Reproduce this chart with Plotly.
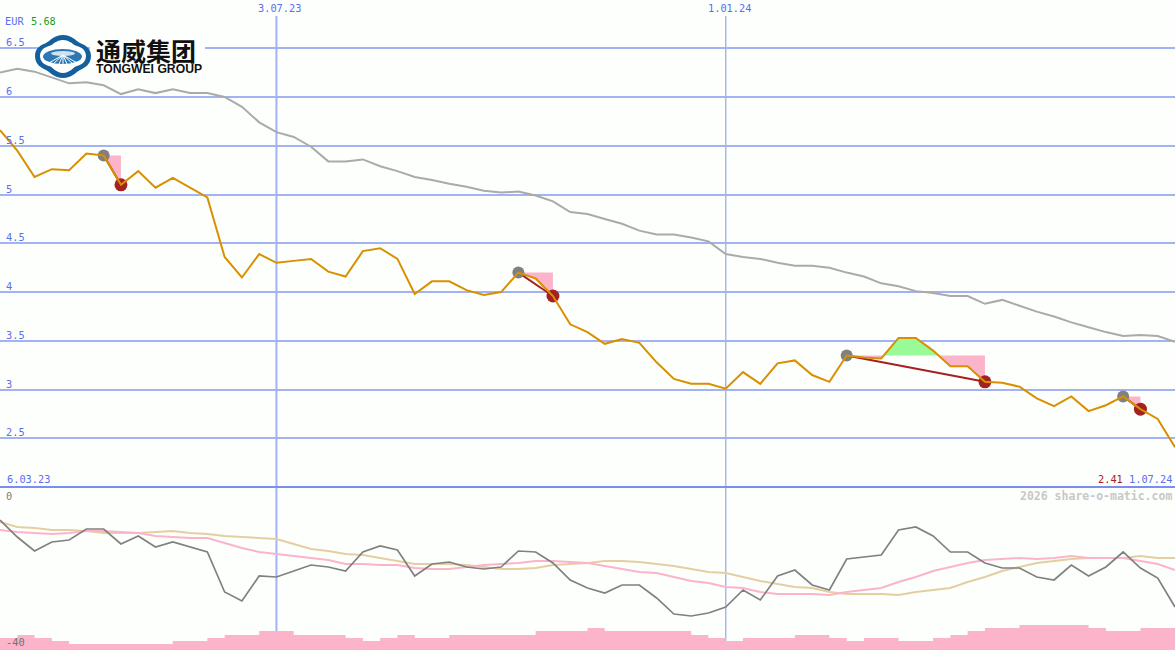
import plotly.graph_objects as go

weeks = list(range(69))
price = [5.66,5.45,5.18,5.26,5.25,5.42,5.40,5.10,5.24,5.07,5.17,5.07,4.97,4.36,4.15,4.39,4.30,4.32,4.34,4.21,
         4.16,4.42,4.45,4.34,3.98,4.11,4.11,4.02,3.97,4.00,4.20,4.14,3.96,3.67,3.59,3.47,3.52,3.48,3.28,3.11,
         3.06,3.06,3.01,3.18,3.06,3.27,3.30,3.15,3.08,3.35,3.33,3.32,3.53,3.53,3.40,3.24,3.24,3.08,3.07,3.03,
         2.91,2.83,2.93,2.78,2.84,2.93,2.80,2.70,2.41]
average = [6.25,6.29,6.26,6.20,6.14,6.15,6.12,6.03,6.08,6.04,6.08,6.04,6.04,6.00,5.90,5.74,5.64,5.59,5.49,5.34,
           5.34,5.36,5.29,5.24,5.18,5.15,5.11,5.08,5.04,5.02,5.03,4.99,4.93,4.82,4.80,4.75,4.70,4.63,4.59,4.59,
           4.56,4.52,4.39,4.36,4.34,4.30,4.27,4.27,4.25,4.20,4.16,4.09,4.06,4.01,3.99,3.96,3.96,3.88,3.92,3.86,
           3.80,3.75,3.69,3.64,3.59,3.55,3.56,3.55,3.49]
osc_dark = [-8,-12.25,-15.75,-13.5,-13,-10.25,-10.25,-14,-12,-14.75,-13.5,-14.75,-16,-26,-28.25,-22,-22.25,-20.75,
            -19.25,-19.75,-20.75,-16,-14.5,-15.5,-22,-19,-18.5,-19.75,-20.25,-19.75,-15.75,-16,-18.75,-23,-25,
            -26.25,-24.25,-24.25,-27.5,-31.5,-32,-31.25,-29.75,-25.5,-28,-22,-20.5,-24.25,-25.5,-17.75,-17.25,
            -16.75,-10.5,-9.75,-12,-16,-16,-18.75,-20,-20,-22.25,-23,-19.25,-22,-19.75,-16,-20,-22.5,-29.75]
osc_pink = [-10.5,-11,-11.25,-11.5,-11.25,-10.75,-10.75,-11,-11.25,-12,-12.25,-12.5,-12.5,-13.75,-15,-16,-16.5,-17,
            -17.5,-18,-19,-19,-19.25,-19.25,-20,-20.25,-20.25,-19.75,-19.25,-19,-18.75,-18.25,-18.25,-18.5,-18.75,
            -19.5,-20.25,-21,-21.25,-22.25,-23.25,-23.75,-24.75,-25,-26,-26.5,-26.5,-26.5,-26.75,-26,-25.5,-25,
            -23.5,-22.25,-20.75,-19.75,-18.75,-18,-17.75,-17.5,-17.75,-17.5,-17,-17.5,-17.5,-17.5,-18.25,-19,-20.5]
osc_tan = [-8.5,-9.75,-10,-10.5,-10.5,-10.75,-11.25,-11.25,-11.25,-11,-10.75,-11.25,-11.5,-12,-12.25,-12.5,-12.75,
           -14,-15.25,-15.75,-16.5,-16.75,-17.5,-18.25,-19,-19,-19,-19.25,-19.75,-20.25,-20.25,-20,-19.25,-19,
           -18.75,-18.25,-18.25,-18.5,-19,-19.5,-20.25,-21,-21.25,-22.25,-23.25,-24,-24.75,-25,-26,-26.5,-26.5,
           -26.5,-26.75,-26,-25.5,-25,-23.5,-22.25,-20.75,-19.75,-18.75,-18.25,-17.75,-17.5,-17.5,-17.5,-17,-17.5,-17.5]
volume = [4,5,4,3,2,2,2,2,2,2,3,3,4,5,5,6.33,6.33,5,5,5,4,3,4,5,4,4,5,5,5,5,5,6.33,6.33,6.33,7.33,6.33,6.33,6.33,
          6.33,6.33,5,4,3,4,4,4,5,5,4,3,4,4,3,3,4,5,6.33,7.33,7.33,8.33,8.33,8.33,8.33,7.33,6.33,6.33,7.33,7.33]
trade_entry = [6, 30, 49, 65]
trade_exit = [7, 32, 57, 66]
price_ticks = [2.5, 3, 3.5, 4, 4.5, 5, 5.5, 6, 6.5]
price_tick_labels = ["2.5", "3", "3.5", "4", "4.5", "5", "5.5", "6", "6.5"]
date_lines = [16, 42]
date_line_widths = [2, 1.4]
date_line_labels = ["3.07.23", "1.01.24"]

W, H = 1175, 650
BG = "#fdfffd"
GRID = "#a3b2f0"
BLUE = "#5a6ef0"
MONO = "DejaVu Sans Mono"
RED = "#a52022"
PINK = "#fcb4cb"


def px(x):
    return x / W


def py(y):
    return 1 - y / H


def regions(i0, i1):
    """Pink/green polygons between the entry level and the price."""
    level = price[i0]
    xs, ys = [weeks[i0]], [level]
    for i in range(i0, i1):
        a, b = price[i] - level, price[i + 1] - level
        if a * b < 0:
            t = a / (a - b)
            xs.append(weeks[i] + t)
            ys.append(level)
        xs.append(weeks[i + 1])
        ys.append(price[i + 1])
    low = [min(v, level) for v in ys]
    high = [max(v, level) for v in ys]
    lev = [level] * len(xs)
    return xs, low, high, lev


fig = go.Figure()

fig.add_trace(go.Scatter(x=weeks[:len(volume) + 1], y=volume + volume[-1:], mode="lines",
                         line=dict(shape="hv", width=0, color=PINK), fill="tozeroy", fillcolor=PINK,
                         yaxis="y3", xaxis="x"))

for tr_in, tr_out in zip(trade_entry, trade_exit):
    xs, low, high, lev = regions(tr_in, tr_out)
    fig.add_trace(go.Scatter(x=xs + xs[::-1], y=low + lev[::-1], fill="toself", fillcolor=PINK,
                             mode="none", yaxis="y"))
    if max(high) > lev[0]:
        fig.add_trace(go.Scatter(x=xs + xs[::-1], y=high + lev[::-1], fill="toself", fillcolor="#98fb98",
                                 mode="none", yaxis="y"))

fig.add_trace(go.Scatter(x=weeks, y=average, mode="lines", line=dict(color="#aaaaaa", width=2), yaxis="y"))

for tr_in, tr_out in zip(trade_entry, trade_exit):
    fig.add_trace(go.Scatter(x=[weeks[tr_in], weeks[tr_out]], y=[price[tr_in], price[tr_out]], mode="lines",
                             line=dict(color=RED, width=2), yaxis="y"))

fig.add_trace(go.Scatter(x=[weeks[i] for i in trade_entry], y=[price[i] for i in trade_entry], mode="markers",
                         marker=dict(color="#808080", size=12, line=dict(width=0)), yaxis="y"))
fig.add_trace(go.Scatter(x=[weeks[i] for i in trade_exit], y=[price[i] for i in trade_exit], mode="markers",
                         marker=dict(color=RED, size=13, line=dict(width=0)), yaxis="y"))

fig.add_trace(go.Scatter(x=weeks, y=price, mode="lines", line=dict(color="#d99000", width=2), yaxis="y"))

fig.add_trace(go.Scatter(x=weeks, y=osc_tan, mode="lines", line=dict(color="#e4cfa2", width=2), yaxis="y2"))
fig.add_trace(go.Scatter(x=weeks, y=osc_pink, mode="lines", line=dict(color="#fbb4cb", width=2), yaxis="y2"))
fig.add_trace(go.Scatter(x=weeks, y=osc_dark, mode="lines", line=dict(color="#808080", width=1.7), yaxis="y2"))

shapes = []
for w, lw in zip(date_lines, date_line_widths):
    shapes.append(dict(type="line", xref="x", yref="paper", x0=w, x1=w, y0=0, y1=py(16),
                       line=dict(color=GRID, width=lw), layer="below"))
shapes.append(dict(type="line", xref="paper", yref="paper", x0=0, x1=1, y0=py(487), y1=py(487),
                   line=dict(color="#7b8ef0", width=2), layer="below"))

# Logo, drawn in page coordinates
LOGO_BLUE = "#14609f"


def P(cmds):
    out = []
    for c in cmds:
        if isinstance(c, str):
            out.append(c)
        else:
            out.append(f"{px(c[0]):.5f},{py(c[1]):.5f}")
    return " ".join(out)


shapes.append(dict(type="rect", xref="paper", yref="paper", x0=px(90), x1=px(205), y0=py(76), y1=py(40),
                   fillcolor=BG, line=dict(width=0), layer="above"))
clover = ["M", (63, 35), "C", (72, 35), (76, 41), (80, 43), "C", (84, 45), (91, 47), (91, 56), "C", (91, 65), (84, 68),
          (80, 70), "C", (76, 72), (72, 78), (63, 78), "C", (54, 78), (50, 72), (46, 70), "C", (42, 68), (35, 65),
          (35, 56), "C", (35, 47), (42, 45), (46, 43), "C", (50, 41), (54, 35), (63, 35), "Z"]
inner = ["M", (63, 40), "C", (70, 40), (73, 45), (77, 46), "C", (81, 47), (86, 50), (86, 56), "C", (86, 62), (81, 65),
         (77, 66), "C", (73, 67), (70, 73), (63, 73), "C", (56, 73), (53, 67), (49, 66), "C", (45, 65), (40, 62),
         (40, 56), "C", (40, 50), (45, 47), (49, 46), "C", (53, 45), (56, 40), (63, 40), "Z"]
shapes.append(dict(type="path", xref="paper", yref="paper", path=P(clover), fillcolor=LOGO_BLUE, line=dict(width=0), layer="above"))
shapes.append(dict(type="path", xref="paper", yref="paper", path=P(inner), fillcolor="#ffffff", line=dict(width=0), layer="above"))
shapes.append(dict(type="circle", xref="paper", yref="paper", x0=px(43), x1=px(82), y0=py(64), y1=py(49),
                   fillcolor="#2b78b5", line=dict(width=0), layer="above"))
shapes.append(dict(type="circle", xref="paper", yref="paper", x0=px(51), x1=px(75), y0=py(56), y1=py(51),
                   fillcolor="#cfe2f0", line=dict(width=0), layer="above"))
for x_end in [47, 53, 59, 63, 67, 73, 79]:
    shapes.append(dict(type="line", xref="paper", yref="paper", x0=px(63), x1=px(x_end), y0=py(55), y1=py(64),
                       line=dict(color="#ffffff", width=1), layer="above"))

annotations = []


def note(x, y, text, color=BLUE, anchor="left", size=10.3, font=MONO, bold=False, yref="paper", yanchor="middle"):
    annotations.append(dict(x=px(x), y=y, xref="paper", yref=yref, text=f"<b>{text}</b>" if bold else text,
                            showarrow=False, xanchor=anchor, yanchor=yanchor, align="left",
                            font=dict(family=font, size=size, color=color), borderpad=0, borderwidth=0))


for v, label in zip(price_ticks, price_tick_labels):
    note(6, v, label, yref="y", yanchor="bottom")
for w, label in zip(date_lines, date_line_labels):
    annotations.append(dict(x=w, y=py(8), xref="x", yref="paper", text=label, showarrow=False, xshift=3.5,
                            xanchor="center", yanchor="middle", font=dict(family=MONO, size=10.3, color=BLUE)))
note(5, py(21), "EUR")
note(31, py(21), "5.68", color="#1f9e1f")
note(7, py(479), "6.03.23")
note(1098, py(479), "2.41", color=RED)
note(1172, py(479), "1.07.24", anchor="right")
note(1172, py(496), "2026 share-o-matic.com", color="#c8c8c8", anchor="right", size=11.5, bold=True)
note(6, py(496), "0", color="#808080")
note(6, py(642), "-40", color="#707070")
note(96, py(50), "通威集团", color="#111111", size=25, font="Noto Sans CJK SC", bold=True)
note(96, py(68.5), "TONGWEI GROUP", color="#111111", size=12.2, font="Liberation Sans", bold=True)

fig.update_layout(
    width=W, height=H, margin=dict(l=0, r=0, t=0, b=0), autosize=False,
    paper_bgcolor=BG, plot_bgcolor=BG, showlegend=False, hovermode=False,
    shapes=shapes, annotations=annotations,
    xaxis=dict(domain=[0, 1], range=[0, 68], showgrid=False, zeroline=False, showticklabels=False, ticks="",
               anchor="y", showline=False),
    yaxis=dict(domain=[py(487.2), 1], range=[2, 2 + 487.2 / 97.55], tickvals=price_ticks, showticklabels=False, ticks="",
               gridcolor=GRID, gridwidth=2, zeroline=False, showline=False),
    yaxis2=dict(domain=[0, py(488)], range=[-40.5, 0], showgrid=False, zeroline=False, showticklabels=False, ticks="",
                anchor="x"),
    yaxis3=dict(domain=[0, py(488)], range=[0, 54], showgrid=False, zeroline=False, showticklabels=False, ticks="",
                anchor="x", overlaying="y2"),
)

fig.write_html("out.html", config=dict(displayModeBar=False, staticPlot=True),
               post_script="document.body.style.margin='0';document.body.style.overflow='hidden';")
